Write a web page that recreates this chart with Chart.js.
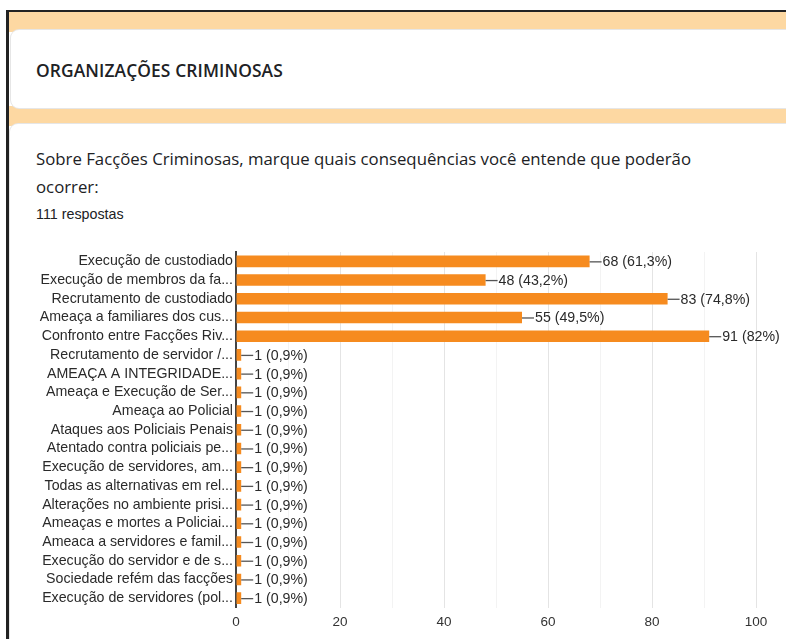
<!DOCTYPE html>
<html>
<head>
<meta charset="utf-8">
<script src="https://cdn.jsdelivr.net/npm/chart.js@4.4.1/dist/chart.umd.min.js"></script>
<style>
  html, body { margin: 0; padding: 0; background: #fff; }
  body { width: 786px; height: 639px; position: relative; overflow: hidden; font-family: "Liberation Sans", Arial, sans-serif; }
  #frame-top { position: absolute; left: 6px; top: 10px; width: 780px; height: 2px; background: #222; }
  #frame-left { position: absolute; left: 6px; top: 10px; width: 3px; height: 629px; background: #222; }
  .band { position: absolute; left: 9px; width: 777px; background: #fdd8a2; }
  #card1 { position: absolute; left: 11px; top: 30px; width: 790px; height: 78px; background: #fff;
           border-radius: 8px; box-shadow: 0 0 0 1px #e6e6e6; }
  #card2 { position: absolute; left: 10px; top: 124px; width: 790px; height: 530px; background: #fff;
           border-radius: 8px; box-shadow: 0 0 0 1px #e6e6e6; }
  #titulo { position: absolute; left: 36px; top: 58px; font-family: "Open Sans", Lato, sans-serif; font-weight: 600;
            font-size: 17.4px; color: #202124; letter-spacing: 0.1px; }
  #pergunta { position: absolute; left: 36px; top: 145px; width: 680px; font-family: "Open Sans", Lato, sans-serif;
              font-size: 16.8px; line-height: 28px; color: #202124; }
  #respostas { position: absolute; left: 36px; top: 206px; font-family: "Liberation Sans", Arial, sans-serif;
               font-size: 14.3px; color: #202124; }
  #wrap { position: absolute; left: 10px; top: 240px; width: 776px; height: 399px; }
</style>
</head>
<body>
<div id="frame-top"></div>
<div id="frame-left"></div>
<div class="band" style="top:12px;height:20px;"></div>
<div class="band" style="top:106px;height:20px;"></div>
<div id="card1"></div>
<div id="card2"></div>
<div id="titulo">ORGANIZAÇÕES CRIMINOSAS</div>
<div id="pergunta">Sobre Facções Criminosas, marque quais consequências você entende que poderão ocorrer:</div>
<div id="respostas">111 respostas</div>
<div id="wrap"><canvas id="grafico" width="776" height="399"></canvas></div>

<script>
// categorias (já truncadas como no Google Forms)
const categorias = [
  "Execução de custodiado",
  "Execução de membros da fa...",
  "Recrutamento de custodiado",
  "Ameaça a familiares dos cus...",
  "Confronto entre Facções Riv...",
  "Recrutamento de servidor /...",
  "AMEAÇA A INTEGRIDADE...",
  "Ameaça e Execução de Ser...",
  "Ameaça ao Policial",
  "Ataques aos Policiais Penais",
  "Atentado contra policiais pe...",
  "Execução de servidores, am...",
  "Todas as alternativas em rel...",
  "Alterações no ambiente prisi...",
  "Ameaças e mortes a Policiai...",
  "Ameaca a servidores e famil...",
  "Execução do servidor e de s...",
  "Sociedade refém das facções",
  "Execução de servidores (pol..."
];
const respostas = [68, 48, 83, 55, 91, 1, 1, 1, 1, 1, 1, 1, 1, 1, 1, 1, 1, 1, 1];
const percentuais = ["61,3%", "43,2%", "74,8%", "49,5%", "82%", "0,9%", "0,9%", "0,9%", "0,9%", "0,9%",
                     "0,9%", "0,9%", "0,9%", "0,9%", "0,9%", "0,9%", "0,9%", "0,9%", "0,9%"];
const ticksX = [0, 20, 40, 60, 80, 100];

const fonteEixo = "'Liberation Sans', Arial, sans-serif";

// rótulo "—68 (61,3%)" no fim de cada barra
const rotulos = {
  id: "rotulos",
  afterDatasetsDraw(chart) {
    const ctx = chart.ctx;
    const meta = chart.getDatasetMeta(0);
    ctx.save();
    ctx.font = "14.2px " + fonteEixo;
    ctx.textBaseline = "middle";
    meta.data.forEach((bar, i) => {
      const x = bar.x, y = bar.y;
      ctx.strokeStyle = "#555";
      ctx.lineWidth = 1.3;
      ctx.beginPath();
      ctx.moveTo(x, y + 0.5);
      ctx.lineTo(x + 12, y + 0.5);
      ctx.stroke();
      ctx.fillStyle = "#2a2a2a";
      ctx.fillText(respostas[i] + " (" + percentuais[i] + ")", x + 13, y + 1);
    });
    ctx.restore();
  }
};

const ctx = document.getElementById("grafico").getContext("2d");
new Chart(ctx, {
  type: "bar",
  data: {
    labels: categorias,
    datasets: [{
      data: respostas,
      backgroundColor: "#f68b1f",
      borderWidth: 0,
      barPercentage: 0.62,
      categoryPercentage: 1
    }]
  },
  options: {
    indexAxis: "y",
    responsive: false,
    animation: false,
    layout: { padding: { top: 12, right: 30, left: 0, bottom: 0 } },
    plugins: {
      legend: { display: false },
      tooltip: { enabled: false }
    },
    scales: {
      x: {
        min: 0,
        max: 100,
        afterFit(scale) { scale.height = 31.5; },
        afterBuildTicks(scale) {
          const t = [];
          for (let v = 0; v <= 100; v += 10) t.push({ value: v });
          scale.ticks = t;
        },
        ticks: {
          autoSkip: false,
          maxRotation: 0,
          padding: 7,
          color: "#333",
          font: { family: fonteEixo, size: 13.5 },
          callback: (v) => ticksX.includes(v) ? v : ""
        },
        grid: {
          drawTicks: false,
          color: (c) => ticksX.includes(c.tick && c.tick.value) ? "#e4e4e4" : "#f3f3f3",
          lineWidth: 1
        },
        border: { display: false }
      },
      y: {
        afterFit(scale) { scale.width = 226; },
        ticks: {
          autoSkip: false,
          padding: 3,
          color: "#2a2a2a",
          font: { family: fonteEixo, size: 14.2 }
        },
        grid: { display: false, drawTicks: false },
        border: { display: true, color: "#444", width: 2 }
      }
    }
  },
  plugins: [rotulos]
});
</script>
</body>
</html>
